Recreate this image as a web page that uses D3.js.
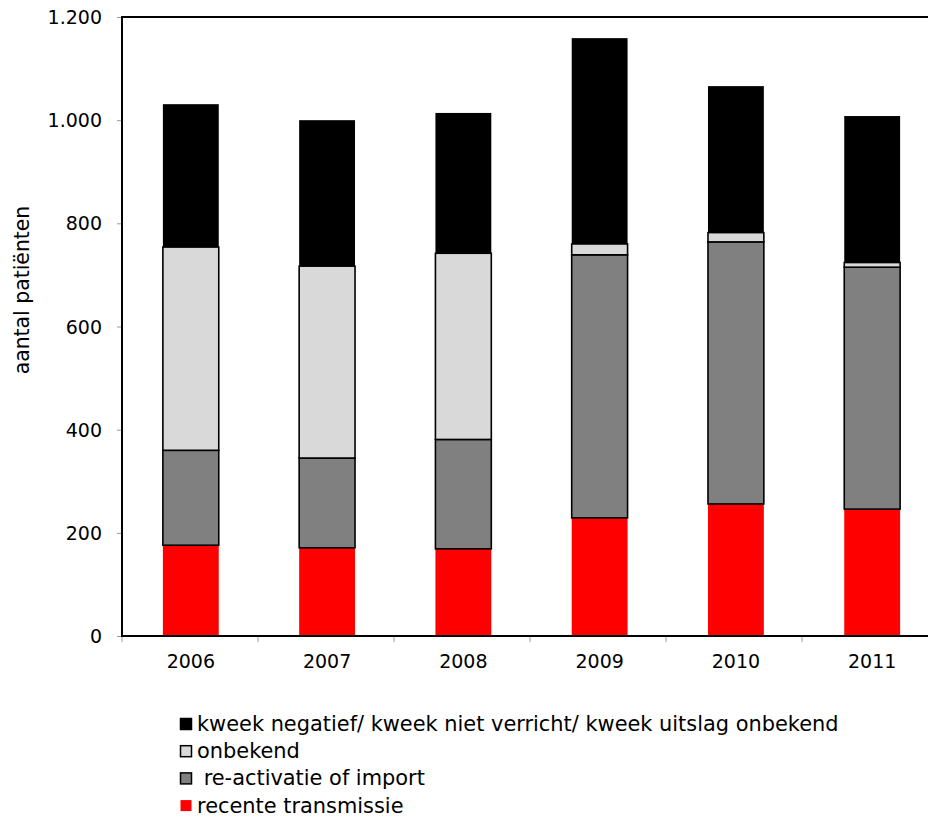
<!DOCTYPE html>
<html><head><meta charset="utf-8">
<script src="https://cdn.jsdelivr.net/npm/d3@7"></script>
<style>body{margin:0;background:#fff}svg{display:block}text{font-family:"DejaVu Sans",Verdana,sans-serif;fill:#000;white-space:pre}</style>
</head><body><svg id="c" width="928" height="817"></svg>
<script>
const years = ["2006","2007","2008","2009","2010","2011"];
const recente = [176, 171, 169, 229, 256, 246];
const reactivatie = [184, 174, 212, 510, 508, 469];
const onbekend = [394, 372, 361, 21, 18, 9];
const kweekNeg = [277, 283, 272, 399, 284, 284];
const yTicks = [0, 200, 400, 600, 800, 1000, 1200];

const seriesNames = ["recente transmissie", " re-activatie of import", "onbekend", "kweek negatief/ kweek niet verricht/ kweek uitslag onbekend"];
const seriesData = [recente, reactivatie, onbekend, kweekNeg];
const colors = ["#ff0000", "#808080", "#d9d9d9", "#000000"];
const strokes = [null, "#000", "#000", null];

const svg = d3.select("#c");
const m = {left: 122, top: 17, bottom: 636};
const x = d3.scaleBand().domain(years).range([m.left, m.left + 6*136.5]).paddingInner(0.59).paddingOuter(0.3);
const y = d3.scaleLinear().domain([0, 1200]).range([m.bottom, m.top]);
const fmt = d => d3.format(",")(d).replace(/,/g, ".");

const rows = years.map((yr, i) => {
  const o = {year: yr};
  seriesData.forEach((s, k) => o["s" + k] = s[i]);
  return o;
});
const stack = d3.stack().keys([0,1,2,3].map(k => "s" + k))(rows);

stack.forEach((layer, k) => {
  svg.append("g").selectAll("rect").data(layer).join("rect")
    .attr("x", d => x(d.data.year))
    .attr("width", x.bandwidth())
    .attr("y", d => y(d[1]))
    .attr("height", d => y(d[0]) - y(d[1]))
    .attr("fill", colors[k])
    .attr("stroke", strokes[k] || "none")
    .attr("stroke-width", 1.6);
});

// y axis
const ya = svg.append("g").attr("transform", `translate(${m.left},0)`)
  .call(d3.axisLeft(y).tickValues(yTicks).tickFormat(fmt).tickSize(5).tickPadding(15));
ya.select(".domain").remove();
ya.selectAll(".tick line").attr("stroke", "#999");
ya.selectAll(".tick text").attr("font-size", 19).attr("dy", "0.35em");

// x axis
const xb = svg.append("g").attr("transform", `translate(0,${m.bottom})`);
years.concat(["end"]).forEach((yr, i) => {
  const xp = m.left + i * 136;
  xb.append("line").attr("x1", xp).attr("x2", xp).attr("y1", 0).attr("y2", 6).attr("stroke", "#999");
});
xb.selectAll("text").data(years).join("text")
  .attr("x", d => x(d) + x.bandwidth()/2).attr("y", 32)
  .attr("text-anchor", "middle").attr("font-size", 19).text(d => d);

// frame lines
svg.append("line").attr("x1", m.left).attr("x2", 928).attr("y1", m.top).attr("y2", m.top).attr("stroke", "#000").attr("stroke-width", 2);
svg.append("line").attr("x1", m.left).attr("x2", m.left).attr("y1", m.top - 1).attr("y2", m.bottom + 1).attr("stroke", "#000").attr("stroke-width", 2);
svg.append("line").attr("x1", m.left).attr("x2", 928).attr("y1", m.bottom).attr("y2", m.bottom).attr("stroke", "#000").attr("stroke-width", 2);

// y title
svg.append("text").attr("transform", "translate(22,290) rotate(-90)")
  .attr("text-anchor", "middle").attr("dy", "0.35em").attr("font-size", 20.4).text("aantal patiënten");

// legend
const leg = [3, 2, 1, 0];
leg.forEach((k, i) => {
  const by = 731 + i * 27.2;
  svg.append("rect").attr("x", 180.5).attr("y", by - 12.5).attr("width", 11).attr("height", 11)
    .attr("fill", colors[k]).attr("stroke", k === 0 ? "none" : "#000").attr("stroke-width", 1.5);
  svg.append("text").attr("x", 197).attr("y", by).attr("font-size", 20.9).text(seriesNames[k]);
});
</script></body></html>
